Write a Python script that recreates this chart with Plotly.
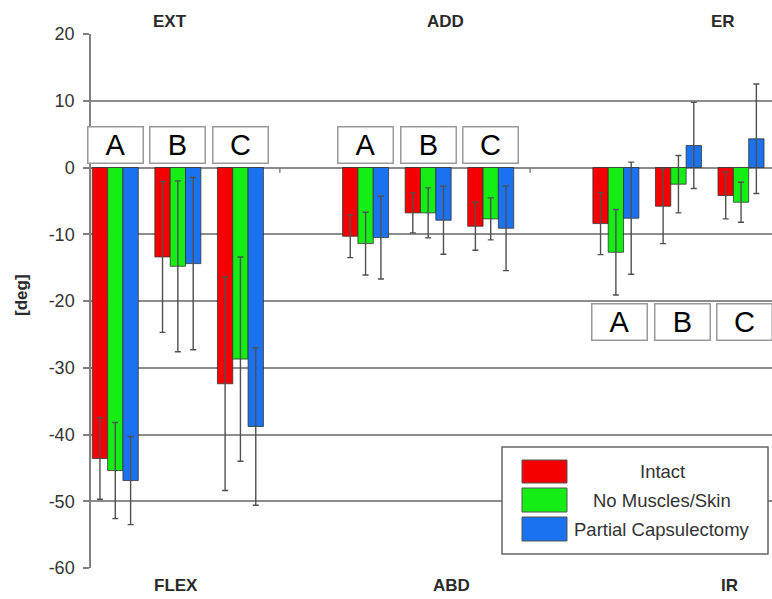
import plotly.graph_objects as go

# Motion pairs: label below the axis (negative direction) and above (positive direction)
motions_neg = ["FLEX", "ABD", "IR"]
motions_pos = ["EXT", "ADD", "ER"]
conditions = ["A", "B", "C"]
series_names = ["Intact", "No Muscles/Skin", "Partial Capsulectomy"]

# Mean angle [deg] and standard deviation, ordered FLEX A-C, ABD A-C, IR A-C
intact_mean = [-43.6, -13.4, -32.4, -10.3, -6.8, -8.8, -8.4, -5.8, -4.2]
intact_sd = [6.1, 11.3, 16.0, 3.2, 3.0, 3.6, 4.65, 5.6, 3.5]
nomus_mean = [-45.4, -14.8, -28.7, -11.4, -6.8, -7.7, -12.7, -2.5, -5.2]
nomus_sd = [7.2, 12.8, 15.3, 4.7, 3.75, 3.15, 6.4, 4.3, 3.0]
partial_mean = [-46.9, -14.4, -38.8, -10.5, -7.9, -9.1, -7.6, 3.3, 4.3]
partial_sd = [6.6, 12.9, 11.8, 6.2, 5.1, 6.35, 8.4, 6.45, 8.2]

# Y axis ticks (plain hyphen minus signs)
y_tickvals = [20, 10, 0, -10, -20, -30, -40, -50, -60]
y_ticktext = ["20", "10", "0", "-10", "-20", "-30", "-40", "-50", "-60"]

colors = ["#f50000", "#14ee14", "#1a72ee"]

# Category slots: three conditions per motion with one empty slot between motions
slots = [m * 4 + c for m in range(len(motions_neg)) for c in range(len(conditions))]

means = [intact_mean, nomus_mean, partial_mean]
sds = [intact_sd, nomus_sd, partial_sd]

W, H = 772, 599
M_L, M_R, M_T, M_B = 91, 0, 34, 31
PLOT_W = W - M_L - M_R
PLOT_H = H - M_T - M_B


def px_x(px):
    return (px - M_L) / PLOT_W


def px_y(py):
    return (H - M_B - py) / PLOT_H


fig = go.Figure()
for name, m, s, col in zip(series_names, means, sds, colors):
    fig.add_trace(go.Bar(
        x=slots, y=m, name=name,
        marker=dict(color=col, line=dict(color="#333333", width=0.8)),
        error_y=dict(type="data", array=s, visible=True,
                     color="#505050", thickness=1.4, width=3),
        showlegend=False,
    ))

font_main = "Liberation Sans, Arial, sans-serif"
annotations = []

# Direction labels above and below the plot
top_x = [0.874, 5.27, 9.71]
bot_x = [0.97, 5.38, 9.81]
for lab, xu in zip(motions_pos, top_x):
    annotations.append(dict(text=f"<b>{lab}</b>", x=xu, xref="x", y=px_y(21), yref="paper",
                            xanchor="center", yanchor="middle", showarrow=False,
                            font=dict(size=17, color="#2a2a2a", family=font_main)))
for lab, xu in zip(motions_neg, bot_x):
    annotations.append(dict(text=f"<b>{lab}</b>", x=xu, xref="x", y=px_y(585), yref="paper",
                            xanchor="center", yanchor="middle", showarrow=False,
                            font=dict(size=17, color="#2a2a2a", family=font_main)))

# Condition letter boxes for each motion
box_rows = [(3.33, 0.0), (3.33, 0.0), (-23.1, 0.06)]
for mi, (yv, dx) in enumerate(box_rows):
    for ci, lab in enumerate(conditions):
        annotations.append(dict(
            text=lab, x=mi * 4 + ci + dx, xref="x", y=yv, yref="y",
            showarrow=False, width=54, height=35, borderpad=0,
            bgcolor="white", bordercolor="#9a9a9a", borderwidth=1.5,
            font=dict(size=29, color="black", family=font_main),
            align="center", valign="middle",
        ))

# Y axis title
annotations.append(dict(text="<b>[deg]</b>", x=px_x(21), xref="paper", y=px_y(295), yref="paper",
                        xanchor="center", yanchor="middle", textangle=-90, showarrow=False,
                        font=dict(size=17, color="#2a2a2a", family=font_main)))

shapes = []
# Small category tick marks on the zero line
for xu in [2.63, 6.63]:
    shapes.append(dict(type="line", xref="x", yref="y", x0=xu, x1=xu, y0=0, y1=-0.8,
                       line=dict(color="#808080", width=1.5)))

# Legend box
shapes.append(dict(type="rect", xref="paper", yref="paper",
                   x0=px_x(502), x1=px_x(768), y0=px_y(554), y1=px_y(447),
                   fillcolor="white", line=dict(color="#666666", width=1.5)))
rows = [(460, 483), (488, 512), (517, 541)]
for (r0, r1), name, col in zip(rows, series_names, colors):
    shapes.append(dict(type="rect", xref="paper", yref="paper",
                       x0=px_x(522), x1=px_x(567), y0=px_y(r1), y1=px_y(r0),
                       fillcolor=col, line=dict(color="#555555", width=1)))
    annotations.append(dict(text=name, x=px_x(662), xref="paper", y=px_y((r0 + r1) / 2), yref="paper",
                            showarrow=False, xanchor="center", yanchor="middle",
                            font=dict(size=18.5, color="#333333", family=font_main)))

fig.update_layout(
    width=W, height=H,
    margin=dict(l=M_L, r=M_R, t=M_T, b=M_B, pad=0),
    paper_bgcolor="white", plot_bgcolor="white",
    barmode="group", bargap=0.265, bargroupgap=0,
    annotations=annotations, shapes=shapes,
    font=dict(family=font_main),
)
fig.update_xaxes(range=[-0.388, 10.495], showticklabels=False, showgrid=False,
                 zeroline=False, showline=False, ticks="")
fig.update_yaxes(range=[-60, 20], tickmode="array", tickvals=y_tickvals, ticktext=y_ticktext,
                 showgrid=True, gridcolor="#8c8c8c", gridwidth=2,
                 zeroline=True, zerolinecolor="#8c8c8c", zerolinewidth=2,
                 showline=True, linecolor="#808080", linewidth=1.5,
                 ticks="outside", ticklen=6, tickcolor="#808080", tickwidth=1.5,
                 ticklabelstandoff=5,
                 tickfont=dict(size=18, color="#333333", family=font_main))

fig.write_html("out.html")
